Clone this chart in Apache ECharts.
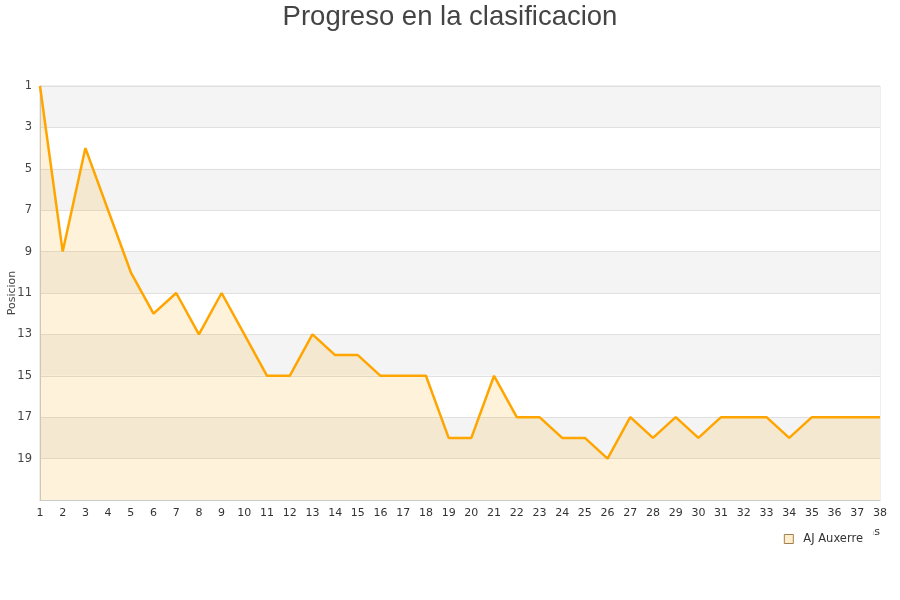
<!DOCTYPE html>
<html>
<head>
<meta charset="utf-8">
<script src="https://cdn.jsdelivr.net/npm/echarts@6/dist/echarts.min.js"></script>
<style>html,body{margin:0;padding:0;background:#fff}#c{width:900px;height:600px}</style>
</head>
<body>
<div id="c"></div>
<script>
var jornadas = [];
for (var i = 1; i <= 38; i++) jornadas.push(String(i));
var posiciones = [1, 9, 4, 7, 10, 12, 11, 13, 11, 13, 15, 15, 13, 14, 14, 15, 15, 15, 18, 18, 15, 17, 17, 18, 18, 19, 17, 18, 17, 18, 17, 17, 17, 18, 17, 17, 17, 17];
var equipo = 'AJ Auxerre';
var titulo = 'Progreso en la clasificacion';

var chart = echarts.init(document.getElementById('c'));
chart.setOption({
  animation: false,
  title: {
    text: titulo, left: 'center', top: -2,
    textStyle: { fontFamily: 'Liberation Sans', fontSize: 27.5, fontWeight: 'normal', color: '#444' }
  },
  legend: {
    data: [{ name: equipo, icon: 'rect' }],
    right: 27, top: 526, padding: [7, 10, 5, 8],
    backgroundColor: '#fff',
    itemWidth: 9, itemHeight: 9,
    textStyle: { fontFamily: 'DejaVu Sans', fontSize: 11.5, color: '#333', padding: [0, 0, 0, 5] },
    itemStyle: { color: '#ffedcc', borderColor: '#a08050', borderWidth: 1 }
  },
  grid: { left: 40, right: 20, top: 86, bottom: 100, outerBoundsMode: 'none', containLabel: false, show: true, borderColor: '#ddd', borderWidth: 1, backgroundColor: 'transparent' },
  xAxis: {
    type: 'category', data: jornadas, boundaryGap: false,
    name: 'Jornadas', nameLocation: 'end', nameGap: 0, nameMoveOverlap: false,
    nameTextStyle: { fontFamily: 'DejaVu Sans', fontSize: 11, color: '#333', align: 'right', verticalAlign: 'top', padding: [27, 0, 0, 0] },
    axisLine: { lineStyle: { color: '#ccc' } },
    axisTick: { show: false },
    axisLabel: { interval: 0, fontFamily: 'DejaVu Sans', fontSize: 11, color: '#333', margin: 8 },
    splitLine: { show: false }
  },
  yAxis: {
    type: 'value', inverse: true, min: 1, max: 21, interval: 2,
    name: 'Posicion', nameLocation: 'middle', nameGap: 22, nameMoveOverlap: false,
    nameTextStyle: { fontFamily: 'DejaVu Sans', fontSize: 11, color: '#444' },
    axisLine: { show: true, lineStyle: { color: '#ccc' } },
    axisTick: { show: false },
    axisLabel: { showMaxLabel: false, fontFamily: 'DejaVu Sans', fontSize: 11.5, color: '#444', margin: 8 },
    splitLine: { show: true, lineStyle: { color: '#e0e0e0' } },
    splitArea: { show: true, areaStyle: { color: ['#f4f4f4', '#ffffff'] } }
  },
  series: [{
    name: equipo, type: 'line', data: posiciones,
    symbol: 'none',
    lineStyle: { color: '#ffa500', width: 2.5 },
    itemStyle: { color: '#ffa500' },
    areaStyle: { color: 'rgba(255,165,0,0.2)', origin: 'end' }
  }]
});
</script>
</body>
</html>
